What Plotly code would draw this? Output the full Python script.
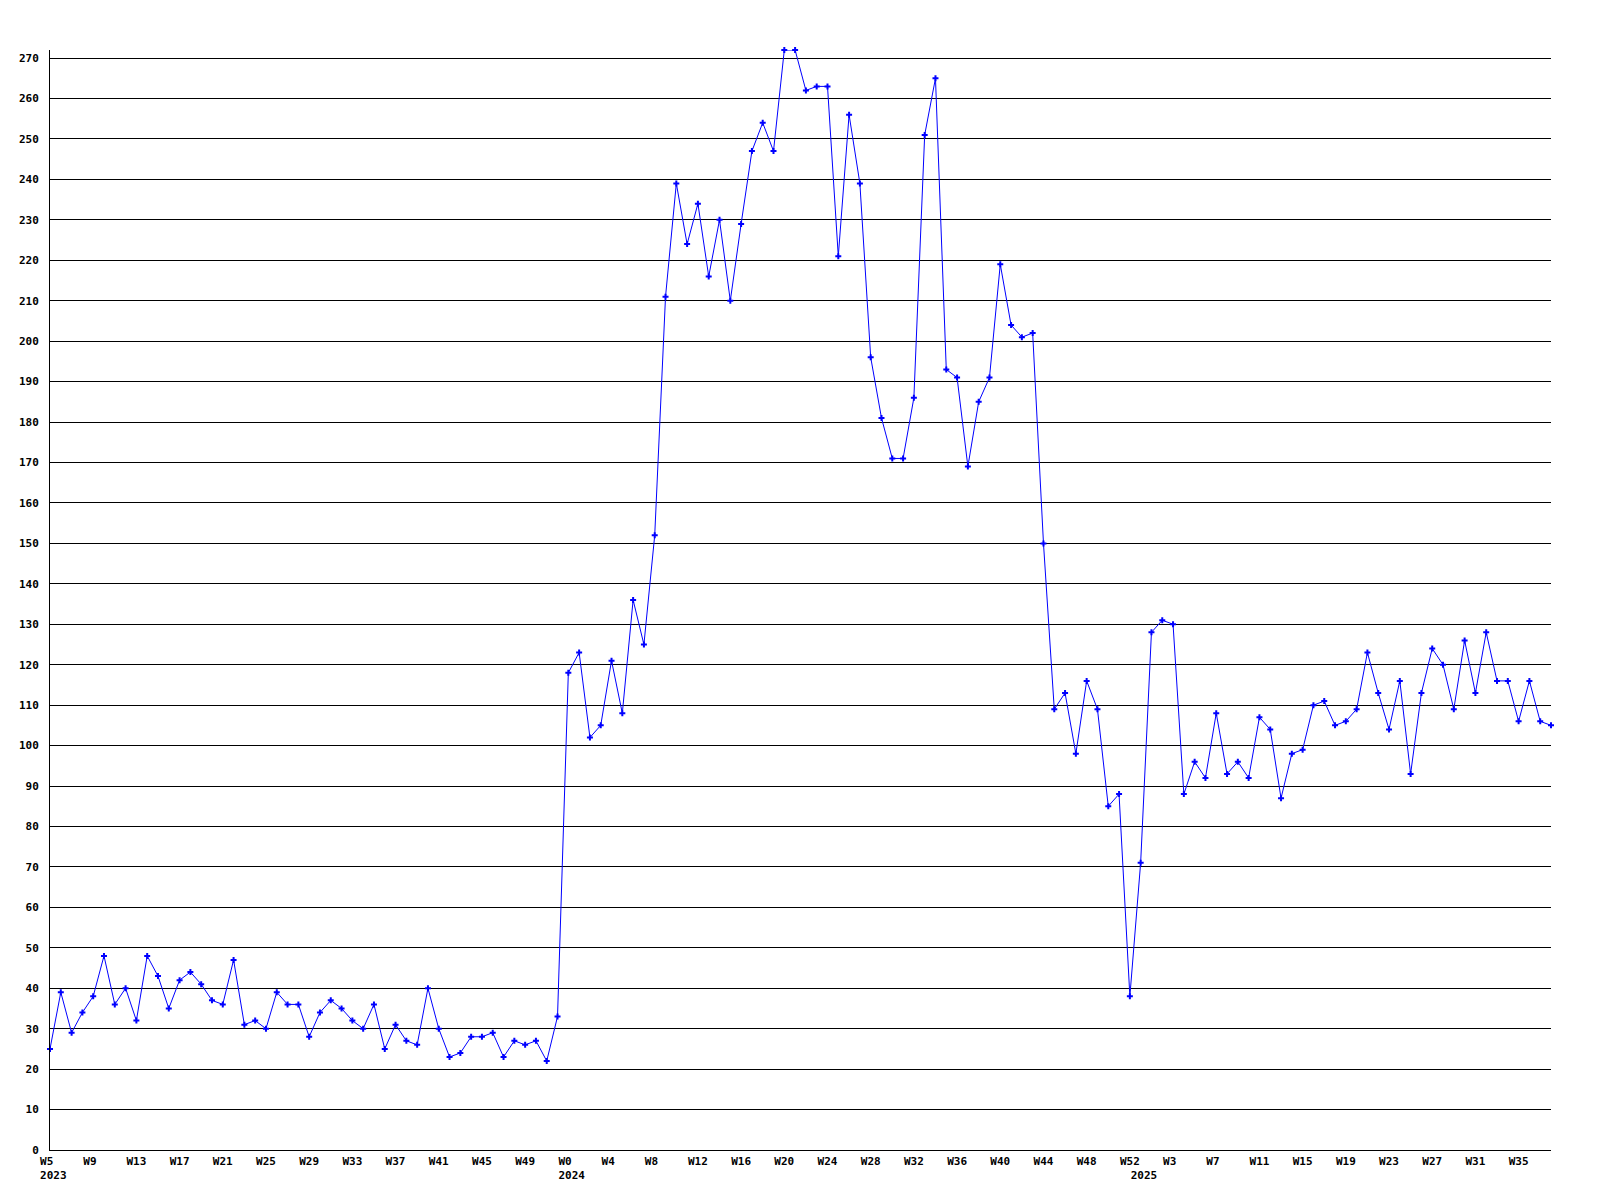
import plotly.graph_objects as go

# Weekly values
values_2023 = [25, 39, 29, 34, 38, 48, 36, 40, 32, 48, 43, 35, 42, 44, 41, 37, 36, 47,
               31, 32, 30, 39, 36, 36, 28, 34, 37, 35, 32, 30, 36, 25, 31, 27, 26, 40,
               30, 23, 24, 28, 28, 29, 23, 27, 26, 27, 22, 33]
values_2024 = [118, 123, 102, 105, 121, 108, 136, 125, 152, 211, 239, 224, 234, 216,
               230, 210, 229, 247, 254, 247, 272, 272, 262, 263, 263, 221, 256, 239,
               196, 181, 171, 171, 186, 251, 265, 193, 191, 169, 185, 191, 219, 204,
               201, 202, 150, 109, 113, 98, 116, 109, 85, 88, 38]
values_2025 = [71, 128, 131, 130, 88, 96, 92, 108, 93, 96, 92, 107, 104, 87, 98, 99,
               110, 111, 105, 106, 109, 123, 113, 104, 116, 93, 113, 124, 120, 109,
               126, 113, 128, 116, 116, 106, 116, 106, 105]

week_tick_labels = ["W5", "W9", "W13", "W17", "W21", "W25", "W29", "W33", "W37", "W41",
                    "W45", "W49",
                    "W0", "W4", "W8", "W12", "W16", "W20", "W24", "W28", "W32", "W36",
                    "W40", "W44", "W48", "W52",
                    "W3", "W7", "W11", "W15", "W19", "W23", "W27", "W31", "W35"]
year_labels = ["2023", "2024", "2025"]
y_tick_values = list(range(0, 271, 10))

values = values_2023 + values_2024 + values_2025
x = list(range(len(values)))
n = len(values)

week_tick_pos = list(range(0, 4 * len(week_tick_labels), 4))
year_pos = [0, len(values_2023), len(values_2023) + len(values_2024)]

NB = "\u00a0"
week_text = [lbl + NB * (3 - len(lbl)) for lbl in week_tick_labels]
year_text = [NB + y for y in year_labels]

tick_font = dict(family="DejaVu Sans Mono", size=11, color="black", weight="bold")

fig = go.Figure()
fig.add_trace(go.Scatter(
    x=x, y=values, mode="lines+markers",
    line=dict(color="#0000ff", width=1),
    marker=dict(symbol="cross", size=5, color="#0000ff", line=dict(width=0)),
    cliponaxis=False, showlegend=False,
))
# invisible trace to activate the overlaid year axis
fig.add_trace(go.Scatter(x=[0], y=[0], xaxis="x2", mode="markers",
                         marker=dict(opacity=0), showlegend=False, hoverinfo="skip"))

# page body has an 8px default margin, so the figure is shrunk by 8 px and offsets adjusted
fig.update_layout(
    width=1592, height=1192,
    margin=dict(l=42, r=49, t=42, b=50, pad=0),
    paper_bgcolor="white", plot_bgcolor="white",
    xaxis=dict(
        range=[0, n - 1], tickmode="array", tickvals=week_tick_pos, ticktext=week_text,
        showgrid=False, zeroline=False, showline=True, linecolor="black", linewidth=1,
        ticks="", tickfont=tick_font, tickangle=0, ticklabelstandoff=1, automargin=False,
    ),
    xaxis2=dict(
        range=[0, n - 1], overlaying="x", anchor="y", side="bottom",
        tickmode="array", tickvals=year_pos, ticktext=year_text,
        showgrid=False, zeroline=False, showline=False, ticks="",
        tickfont=tick_font, tickangle=0, ticklabelstandoff=17, automargin=False,
    ),
    yaxis=dict(
        range=[0, 272], tickmode="array", tickvals=y_tick_values,
        ticktext=[str(v) for v in y_tick_values],
        showgrid=True, gridcolor="black", gridwidth=1, zeroline=False,
        showline=True, linecolor="black", linewidth=1, ticks="",
        tickfont=tick_font, ticklabelstandoff=8, automargin=False,
    ),
)

fig.write_html("out.html")
